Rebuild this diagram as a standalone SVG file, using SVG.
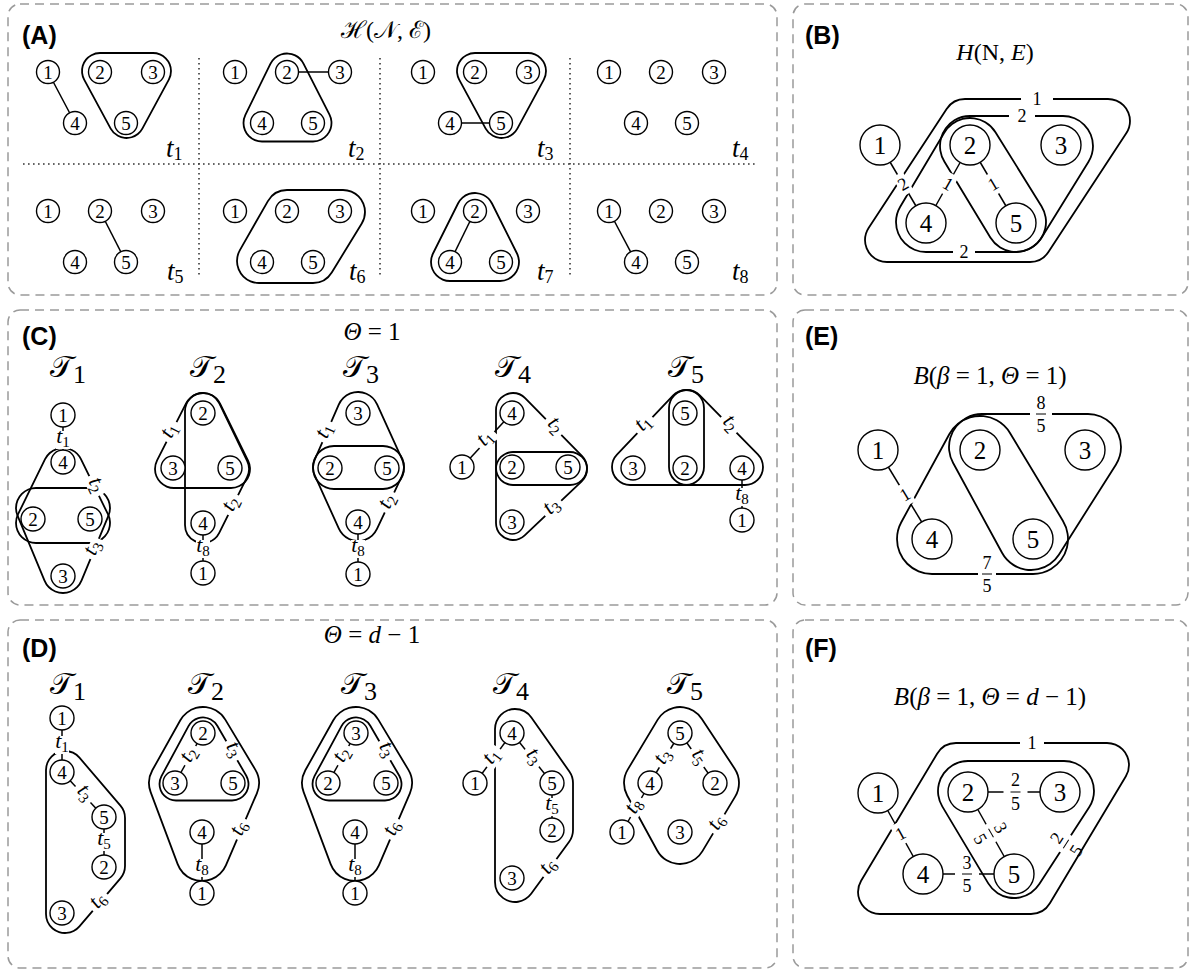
<svg xmlns="http://www.w3.org/2000/svg" width="1190" height="971" viewBox="0 0 1190 971">
<style>
.frame{fill:none;stroke:#9a9a9a;stroke-width:1.5;stroke-dasharray:9 6}
.dot{fill:none;stroke:#333;stroke-width:1.6;stroke-dasharray:1.6 3.4}
.hy{fill:#000}
.mo{fill:#fff;stroke:#fff;stroke-linejoin:round}
.mi{fill:#000;stroke:#000;stroke-linejoin:round}
.con line{stroke:#000;stroke-width:1.5}
.na circle,.nc circle,.nb circle{fill:#fff;stroke:#000;stroke-width:1.4}
.na text,.nc text{font-family:"Liberation Serif",serif;font-size:19px;text-anchor:middle}
.nb text{font-family:"Liberation Serif",serif;font-size:25px;text-anchor:middle}
.lt rect,.ln rect,.fr rect{fill:#fff}
.lt text{font-family:"Liberation Serif",serif;font-style:italic;font-size:22px;text-anchor:middle}
.lt tspan{font-style:normal;font-size:15px}
.ln text,.fr text{font-family:"Liberation Serif",serif;font-size:18px;text-anchor:middle}
.fr line{stroke:#000;stroke-width:1}
.ta{font-family:"Liberation Serif",serif;font-style:italic;font-size:27px}
.ta tspan{font-style:normal;font-size:18px}
.pl{font-family:"Liberation Sans",Arial,sans-serif;font-weight:bold;font-size:25px}
.ti{font-family:"Liberation Serif","DejaVu Serif",serif;font-size:25px;text-anchor:middle}
.ti .it{font-style:italic}
.tr{font-family:"Liberation Serif","DejaVu Serif","DejaVu Sans",serif;font-size:30px}
.tr tspan{font-size:26px}
</style>
<defs>
  <!-- hyperedge hulls: polygon through member nodes, outlined at distance R -->
  <path id="hA1" d="M100 71L153 71L126.5 120Z"/>
  <path id="hA2" d="M287 72L313 123L262 123Z"/>
  <path id="hA3" d="M475 71L528 71L501.5 120Z"/>
  <path id="hA6" d="M287 212L343 212L313 261L259 261Z"/>
  <path id="hA7" d="M475 212L500 262L450 262Z"/>
  <path id="hB1" d="M965 121L1108 121L1030 240L887 240Z"/>
  <path id="hB2" d="M970 146L1063 146L1016 222Z"/>
  <path id="hB3" d="M970 148L1016 222L926 222Z"/>
  <path id="hC1a" d="M63 468L90 523L36 523Z"/>
  <path id="hC1b" d="M36 508L90 508L63 573Z"/>
  <path id="hC2a" d="M203 412L231 469L174 469Z"/>
  <path id="hC2b" d="M203 411L231 469L203 525Z"/>
  <path id="hC3a" d="M358 413L383 468L334 468Z"/>
  <path id="hC3b" d="M334 467L383 467L358 520Z"/>
  <path id="hC4a" d="M513 410L570 468L513 468Z"/>
  <path id="hC4b" d="M513 469L570 469L513 523Z"/>
  <path id="hC5a" d="M686 408L686 467L630 467Z"/>
  <path id="hC5b" d="M687 408L745 467L687 467Z"/>
  <path id="hE1" d="M982 447L1088 447L1031 537Z"/>
  <path id="hE2" d="M980 451L1033 539L932 539Z"/>
  <path id="hD1" d="M65 770L106 818L106 866L65 914Z"/>
  <path id="hD2a" d="M203 734L232 784L176 784Z"/>
  <path id="hD2b" d="M203 733L233 783L202 855L175 783Z"/>
  <path id="hD3a" d="M356 734L385 784L329 784Z"/>
  <path id="hD3b" d="M356 733L386 783L355 855L328 783Z"/>
  <path id="hD4" d="M515 729L553 783L553 830L515 882Z"/>
  <path id="hD5" d="M680 733L713 783L680 838L650 783Z"/>
  <path id="hF1" d="M956 765L1107 765L1031 892L880 892Z"/>
  <path id="hF2" d="M968 791L1064 791L1014 868Z"/>

  <mask id="mA1" maskUnits="userSpaceOnUse" x="0" y="0" width="1190" height="971"><use href="#hA1" class="mo" stroke-width="37.8"/><use href="#hA1" class="mi" stroke-width="34.2"/></mask>
  <mask id="mA2" maskUnits="userSpaceOnUse" x="0" y="0" width="1190" height="971"><use href="#hA2" class="mo" stroke-width="38.8"/><use href="#hA2" class="mi" stroke-width="35.2"/></mask>
  <mask id="mA3" maskUnits="userSpaceOnUse" x="0" y="0" width="1190" height="971"><use href="#hA3" class="mo" stroke-width="37.8"/><use href="#hA3" class="mi" stroke-width="34.2"/></mask>
  <mask id="mA6" maskUnits="userSpaceOnUse" x="0" y="0" width="1190" height="971"><use href="#hA6" class="mo" stroke-width="45.8"/><use href="#hA6" class="mi" stroke-width="42.2"/></mask>
  <mask id="mA7" maskUnits="userSpaceOnUse" x="0" y="0" width="1190" height="971"><use href="#hA7" class="mo" stroke-width="39.8"/><use href="#hA7" class="mi" stroke-width="36.2"/></mask>
  <mask id="mB1" maskUnits="userSpaceOnUse" x="0" y="0" width="1190" height="971"><use href="#hB1" class="mo" stroke-width="45.8"/><use href="#hB1" class="mi" stroke-width="42.2"/></mask>
  <mask id="mB2" maskUnits="userSpaceOnUse" x="0" y="0" width="1190" height="971"><use href="#hB2" class="mo" stroke-width="61.8"/><use href="#hB2" class="mi" stroke-width="58.2"/></mask>
  <mask id="mB3" maskUnits="userSpaceOnUse" x="0" y="0" width="1190" height="971"><use href="#hB3" class="mo" stroke-width="61.8"/><use href="#hB3" class="mi" stroke-width="58.2"/></mask>
  <mask id="mC1a" maskUnits="userSpaceOnUse" x="0" y="0" width="1190" height="971"><use href="#hC1a" class="mo" stroke-width="41.8"/><use href="#hC1a" class="mi" stroke-width="38.2"/></mask>
  <mask id="mC1b" maskUnits="userSpaceOnUse" x="0" y="0" width="1190" height="971"><use href="#hC1b" class="mo" stroke-width="41.8"/><use href="#hC1b" class="mi" stroke-width="38.2"/></mask>
  <mask id="mC2a" maskUnits="userSpaceOnUse" x="0" y="0" width="1190" height="971"><use href="#hC2a" class="mo" stroke-width="39.8"/><use href="#hC2a" class="mi" stroke-width="36.2"/></mask>
  <mask id="mC2b" maskUnits="userSpaceOnUse" x="0" y="0" width="1190" height="971"><use href="#hC2b" class="mo" stroke-width="37.8"/><use href="#hC2b" class="mi" stroke-width="34.2"/></mask>
  <mask id="mC3a" maskUnits="userSpaceOnUse" x="0" y="0" width="1190" height="971"><use href="#hC3a" class="mo" stroke-width="43.8"/><use href="#hC3a" class="mi" stroke-width="40.2"/></mask>
  <mask id="mC3b" maskUnits="userSpaceOnUse" x="0" y="0" width="1190" height="971"><use href="#hC3b" class="mo" stroke-width="43.8"/><use href="#hC3b" class="mi" stroke-width="40.2"/></mask>
  <mask id="mC4a" maskUnits="userSpaceOnUse" x="0" y="0" width="1190" height="971"><use href="#hC4a" class="mo" stroke-width="35.8"/><use href="#hC4a" class="mi" stroke-width="32.2"/></mask>
  <mask id="mC4b" maskUnits="userSpaceOnUse" x="0" y="0" width="1190" height="971"><use href="#hC4b" class="mo" stroke-width="35.8"/><use href="#hC4b" class="mi" stroke-width="32.2"/></mask>
  <mask id="mC5a" maskUnits="userSpaceOnUse" x="0" y="0" width="1190" height="971"><use href="#hC5a" class="mo" stroke-width="37.8"/><use href="#hC5a" class="mi" stroke-width="34.2"/></mask>
  <mask id="mC5b" maskUnits="userSpaceOnUse" x="0" y="0" width="1190" height="971"><use href="#hC5b" class="mo" stroke-width="37.8"/><use href="#hC5b" class="mi" stroke-width="34.2"/></mask>
  <mask id="mE1" maskUnits="userSpaceOnUse" x="0" y="0" width="1190" height="971"><use href="#hE1" class="mo" stroke-width="67.8"/><use href="#hE1" class="mi" stroke-width="64.2"/></mask>
  <mask id="mE2" maskUnits="userSpaceOnUse" x="0" y="0" width="1190" height="971"><use href="#hE2" class="mo" stroke-width="71.8"/><use href="#hE2" class="mi" stroke-width="68.2"/></mask>
  <mask id="mD1" maskUnits="userSpaceOnUse" x="0" y="0" width="1190" height="971"><use href="#hD1" class="mo" stroke-width="39.8"/><use href="#hD1" class="mi" stroke-width="36.2"/></mask>
  <mask id="mD2a" maskUnits="userSpaceOnUse" x="0" y="0" width="1190" height="971"><use href="#hD2a" class="mo" stroke-width="34.8"/><use href="#hD2a" class="mi" stroke-width="31.2"/></mask>
  <mask id="mD2b" maskUnits="userSpaceOnUse" x="0" y="0" width="1190" height="971"><use href="#hD2b" class="mo" stroke-width="53.8"/><use href="#hD2b" class="mi" stroke-width="50.2"/></mask>
  <mask id="mD3a" maskUnits="userSpaceOnUse" x="0" y="0" width="1190" height="971"><use href="#hD3a" class="mo" stroke-width="34.8"/><use href="#hD3a" class="mi" stroke-width="31.2"/></mask>
  <mask id="mD3b" maskUnits="userSpaceOnUse" x="0" y="0" width="1190" height="971"><use href="#hD3b" class="mo" stroke-width="53.8"/><use href="#hD3b" class="mi" stroke-width="50.2"/></mask>
  <mask id="mD4" maskUnits="userSpaceOnUse" x="0" y="0" width="1190" height="971"><use href="#hD4" class="mo" stroke-width="41.8"/><use href="#hD4" class="mi" stroke-width="38.2"/></mask>
  <mask id="mD5" maskUnits="userSpaceOnUse" x="0" y="0" width="1190" height="971"><use href="#hD5" class="mo" stroke-width="53.8"/><use href="#hD5" class="mi" stroke-width="50.2"/></mask>
  <mask id="mF1" maskUnits="userSpaceOnUse" x="0" y="0" width="1190" height="971"><use href="#hF1" class="mo" stroke-width="45.8"/><use href="#hF1" class="mi" stroke-width="42.2"/></mask>
  <mask id="mF2" maskUnits="userSpaceOnUse" x="0" y="0" width="1190" height="971"><use href="#hF2" class="mo" stroke-width="61.8"/><use href="#hF2" class="mi" stroke-width="58.2"/></mask>
</defs>

<rect width="1190" height="971" fill="#fff"/>

<!-- panel frames -->
<g id="frames">
  <rect class="frame" x="8" y="4" width="769" height="291" rx="12"/>
  <rect class="frame" x="793" y="4" width="395" height="291" rx="12"/>
  <rect class="frame" x="8" y="310" width="769" height="295" rx="12"/>
  <rect class="frame" x="793" y="310" width="395" height="295" rx="12"/>
  <rect class="frame" x="8" y="620" width="769" height="348" rx="12"/>
  <rect class="frame" x="793" y="620" width="395" height="348" rx="12"/>
</g>

<!-- panel letters and titles -->
<g id="headings">
  <text class="pl" x="22" y="44">(A)</text>
  <text class="pl" x="805" y="44">(B)</text>
  <text class="pl" x="22" y="345">(C)</text>
  <text class="pl" x="805" y="345">(E)</text>
  <text class="pl" x="22" y="657">(D)</text>
  <text class="pl" x="805" y="657">(F)</text>
  <text class="ti" x="386" y="38" style="font-size:24px">ℋ(𝒩, ℰ)</text>
  <text class="ti" x="995" y="60" style="font-size:24px"><tspan class="it">H</tspan>(N, <tspan class="it">E</tspan>)</text>
  <text class="ti" x="372" y="340"><tspan class="it">Θ</tspan> = 1</text>
  <text class="ti" x="372" y="643"><tspan class="it">Θ</tspan> = <tspan class="it">d</tspan> − 1</text>
  <text class="ti" x="990" y="384"><tspan class="it">B</tspan>(<tspan class="it">β</tspan> = 1, <tspan class="it">Θ</tspan> = 1)</text>
  <text class="ti" x="990" y="705"><tspan class="it">B</tspan>(<tspan class="it">β</tspan> = 1, <tspan class="it">Θ</tspan> = <tspan class="it">d</tspan> − 1)</text>
</g>

<!-- snapshot grid of panel A -->
<g id="grid">
  <line class="dot" x1="23" y1="164" x2="757" y2="164"/>
  <line class="dot" x1="199" y1="58" x2="199" y2="277"/>
  <line class="dot" x1="380" y1="58" x2="380" y2="277"/>
  <line class="dot" x1="570" y1="58" x2="570" y2="277"/>
</g>

<!-- hyperedge outlines -->
<g id="hyperedges">
  <rect id="eA1" class="hy" width="1190" height="971" mask="url(#mA1)"/>
  <rect id="eA2" class="hy" width="1190" height="971" mask="url(#mA2)"/>
  <rect id="eA3" class="hy" width="1190" height="971" mask="url(#mA3)"/>
  <rect id="eA6" class="hy" width="1190" height="971" mask="url(#mA6)"/>
  <rect id="eA7" class="hy" width="1190" height="971" mask="url(#mA7)"/>
  <rect id="eB1" class="hy" width="1190" height="971" mask="url(#mB1)"/>
  <rect id="eB2" class="hy" width="1190" height="971" mask="url(#mB2)"/>
  <rect id="eB3" class="hy" width="1190" height="971" mask="url(#mB3)"/>
  <rect id="eC1a" class="hy" width="1190" height="971" mask="url(#mC1a)"/>
  <rect id="eC1b" class="hy" width="1190" height="971" mask="url(#mC1b)"/>
  <rect id="eC2a" class="hy" width="1190" height="971" mask="url(#mC2a)"/>
  <rect id="eC2b" class="hy" width="1190" height="971" mask="url(#mC2b)"/>
  <rect id="eC3a" class="hy" width="1190" height="971" mask="url(#mC3a)"/>
  <rect id="eC3b" class="hy" width="1190" height="971" mask="url(#mC3b)"/>
  <rect id="eC4a" class="hy" width="1190" height="971" mask="url(#mC4a)"/>
  <rect id="eC4b" class="hy" width="1190" height="971" mask="url(#mC4b)"/>
  <rect id="eC5a" class="hy" width="1190" height="971" mask="url(#mC5a)"/>
  <rect id="eC5b" class="hy" width="1190" height="971" mask="url(#mC5b)"/>
  <rect id="eE1" class="hy" width="1190" height="971" mask="url(#mE1)"/>
  <rect id="eE2" class="hy" width="1190" height="971" mask="url(#mE2)"/>
  <rect id="eD1" class="hy" width="1190" height="971" mask="url(#mD1)"/>
  <rect id="eD2a" class="hy" width="1190" height="971" mask="url(#mD2a)"/>
  <rect id="eD2b" class="hy" width="1190" height="971" mask="url(#mD2b)"/>
  <rect id="eD3a" class="hy" width="1190" height="971" mask="url(#mD3a)"/>
  <rect id="eD3b" class="hy" width="1190" height="971" mask="url(#mD3b)"/>
  <rect id="eD4" class="hy" width="1190" height="971" mask="url(#mD4)"/>
  <rect id="eD5" class="hy" width="1190" height="971" mask="url(#mD5)"/>
  <rect id="eF1" class="hy" width="1190" height="971" mask="url(#mF1)"/>
  <rect id="eF2" class="hy" width="1190" height="971" mask="url(#mF2)"/>
</g>

<!-- pairwise edges -->
<g id="connectors" class="con">
  <line x1="48" y1="72" x2="75" y2="123"/>
  <line x1="287" y1="72" x2="340" y2="72"/>
  <line x1="450" y1="123" x2="501" y2="123"/>
  <line x1="100" y1="211" x2="126" y2="262"/>
  <line x1="475" y1="211" x2="450" y2="262"/>
  <line x1="609" y1="211" x2="636" y2="262"/>
  <line x1="880" y1="145" x2="926" y2="223"/>
  <line x1="926" y1="223" x2="970" y2="145"/>
  <line x1="970" y1="145" x2="1016" y2="223"/>
  <line x1="878" y1="450" x2="932" y2="539"/>
  <line x1="878" y1="793" x2="923" y2="874"/>
  <line x1="968" y1="792" x2="1060" y2="792"/>
  <line x1="968" y1="792" x2="1014" y2="874"/>
  <line x1="923" y1="874" x2="1014" y2="874"/>
  <line x1="63" y1="415" x2="63" y2="462"/>
  <line x1="203" y1="523" x2="203" y2="573"/>
  <line x1="358" y1="522" x2="358" y2="574"/>
  <line x1="462" y1="467" x2="512" y2="413"/>
  <line x1="742" y1="468" x2="742" y2="520"/>
  <line x1="62" y1="718" x2="62" y2="772"/>
  <line x1="62" y1="772" x2="104" y2="817"/>
  <line x1="104" y1="817" x2="104" y2="867"/>
  <line x1="175" y1="783" x2="203" y2="733"/>
  <line x1="202" y1="832" x2="202" y2="893"/>
  <line x1="328" y1="783" x2="356" y2="733"/>
  <line x1="355" y1="832" x2="355" y2="893"/>
  <line x1="475" y1="783" x2="512" y2="733"/>
  <line x1="512" y1="733" x2="552" y2="783"/>
  <line x1="552" y1="783" x2="552" y2="830"/>
  <line x1="680" y1="733" x2="650" y2="783"/>
  <line x1="680" y1="733" x2="715" y2="783"/>
  <line x1="650" y1="783" x2="622" y2="832"/>
</g>

<!-- edge and snapshot labels -->
<g id="labels">
  <text class="ta" x="166" y="157">t<tspan dy="3">1</tspan></text>
  <text class="ta" x="348" y="157">t<tspan dy="3">2</tspan></text>
  <text class="ta" x="537" y="157">t<tspan dy="3">3</tspan></text>
  <text class="ta" x="732" y="157">t<tspan dy="3">4</tspan></text>
  <text class="ta" x="167" y="280">t<tspan dy="3">5</tspan></text>
  <text class="ta" x="349" y="280">t<tspan dy="3">6</tspan></text>
  <text class="ta" x="537" y="280">t<tspan dy="3">7</tspan></text>
  <text class="ta" x="732" y="280">t<tspan dy="3">8</tspan></text>

  <g class="ln" transform="translate(1037 99)"><rect x="-16" y="-4" width="32" height="8"/><text y="6">1</text></g>
  <g class="ln" transform="translate(1022 116)"><rect x="-13" y="-4" width="26" height="8"/><text y="6">2</text></g>
  <g class="ln" transform="translate(964 252)"><rect x="-11" y="-4" width="22" height="8"/><text y="6">2</text></g>
  <g class="ln" transform="translate(903 184) rotate(-30.5)"><rect x="-6" y="-11" width="12" height="22"/><text y="6">2</text></g>
  <g class="ln" transform="translate(948 184) rotate(29.4)"><rect x="-6" y="-11" width="12" height="22"/><text y="6">1</text></g>
  <g class="ln" transform="translate(993 184) rotate(-30.5)"><rect x="-6" y="-11" width="12" height="22"/><text y="6">1</text></g>

  <g class="ln" transform="translate(905 494.5) rotate(-31)"><rect x="-6" y="-11" width="12" height="22"/><text y="6">1</text></g>
  <g class="fr" transform="translate(1041 414)"><rect x="-11" y="-4" width="22" height="8"/><line x1="-5" y1="0" x2="5" y2="0"/><text y="-5">8</text><text y="18">5</text></g>
  <g class="fr" transform="translate(987 574)"><rect x="-9" y="-4" width="18" height="8"/><line x1="-5" y1="0" x2="5" y2="0"/><text y="-5">7</text><text y="18">5</text></g>

  <g class="ln" transform="translate(1032 743)"><rect x="-12" y="-4" width="24" height="8"/><text y="6">1</text></g>
  <g class="ln" transform="translate(900.5 833.5) rotate(-29)"><rect x="-6" y="-11" width="12" height="22"/><text y="6">1</text></g>
  <g class="fr" transform="translate(1015.5 792)"><rect x="-12" y="-4" width="24" height="8"/><line x1="-5" y1="0" x2="5" y2="0"/><text y="-6">2</text><text y="18">5</text></g>
  <g class="fr" transform="translate(991 833) rotate(60.7)"><rect x="-10" y="-4" width="20" height="8"/><line x1="-5" y1="0" x2="5" y2="0"/><text y="-5">3</text><text y="18">5</text></g>
  <g class="fr" transform="translate(1066 844) rotate(-57)"><rect x="-10" y="-4" width="20" height="8"/><line x1="-5" y1="0" x2="5" y2="0"/><text y="-5">2</text><text y="18">5</text></g>
  <g class="fr" transform="translate(967 874)"><rect x="-12" y="-4" width="24" height="8"/><line x1="-5" y1="0" x2="5" y2="0"/><text y="-5">3</text><text y="18">5</text></g>

  <g class="lt" transform="translate(63 440)"><rect x="-7" y="-9" width="14" height="18"/><text y="3">t<tspan dy="4">1</tspan></text></g>
  <g class="lt" transform="translate(94 486) rotate(64)"><rect x="-11" y="-7" width="22" height="14"/><text y="3">t<tspan dy="4">2</tspan></text></g>
  <g class="lt" transform="translate(95 549) rotate(-67)"><rect x="-11" y="-7" width="22" height="14"/><text y="3">t<tspan dy="4">3</tspan></text></g>
  <g class="lt" transform="translate(171.6 431.9) rotate(-63)"><rect x="-11" y="-7" width="22" height="14"/><text y="3">t<tspan dy="4">1</tspan></text></g>
  <g class="lt" transform="translate(233 505) rotate(-63.4)"><rect x="-11" y="-7" width="22" height="14"/><text y="3">t<tspan dy="4">2</tspan></text></g>
  <g class="lt" transform="translate(203 549)"><rect x="-7" y="-9" width="14" height="18"/><text y="3">t<tspan dy="4">8</tspan></text></g>
  <g class="lt" transform="translate(326.7 432) rotate(-66)"><rect x="-11" y="-7" width="22" height="14"/><text y="3">t<tspan dy="4">1</tspan></text></g>
  <g class="lt" transform="translate(389.5 502.5) rotate(-64.7)"><rect x="-11" y="-7" width="22" height="14"/><text y="3">t<tspan dy="4">2</tspan></text></g>
  <g class="lt" transform="translate(358 549)"><rect x="-7" y="-9" width="14" height="18"/><text y="3">t<tspan dy="4">8</tspan></text></g>
  <g class="lt" transform="translate(487 440) rotate(-47)"><rect x="-11" y="-7" width="22" height="14"/><text y="3">t<tspan dy="4">1</tspan></text></g>
  <g class="lt" transform="translate(553.6 427) rotate(45.5)"><rect x="-11" y="-7" width="22" height="14"/><text y="3">t<tspan dy="4">2</tspan></text></g>
  <g class="lt" transform="translate(553.2 508.3) rotate(-43.5)"><rect x="-11" y="-7" width="22" height="14"/><text y="3">t<tspan dy="4">3</tspan></text></g>
  <g class="lt" transform="translate(644.9 425.1) rotate(-46.5)"><rect x="-11" y="-7" width="22" height="14"/><text y="3">t<tspan dy="4">1</tspan></text></g>
  <g class="lt" transform="translate(728.8 424.9) rotate(45.5)"><rect x="-11" y="-7" width="22" height="14"/><text y="3">t<tspan dy="4">2</tspan></text></g>
  <g class="lt" transform="translate(742 497)"><rect x="-7" y="-9" width="14" height="18"/><text y="3">t<tspan dy="4">8</tspan></text></g>

  <g class="lt" transform="translate(62 745)"><rect x="-7" y="-9" width="14" height="18"/><text y="3">t<tspan dy="4">1</tspan></text></g>
  <g class="lt" transform="translate(83 794.5) rotate(47)"><rect x="-11" y="-7" width="22" height="14"/><text y="3">t<tspan dy="4">3</tspan></text></g>
  <g class="lt" transform="translate(104 842)"><rect x="-7" y="-9" width="14" height="18"/><text y="3">t<tspan dy="4">5</tspan></text></g>
  <g class="lt" transform="translate(99.9 902.4) rotate(-49.5)"><rect x="-11" y="-7" width="22" height="14"/><text y="3">t<tspan dy="4">6</tspan></text></g>
  <g class="lt" transform="translate(191 756) rotate(-60.7)"><rect x="-11" y="-7" width="22" height="14"/><text y="3">t<tspan dy="4">2</tspan></text></g>
  <g class="lt" transform="translate(231.8 750.7) rotate(60)"><rect x="-11" y="-7" width="22" height="14"/><text y="3">t<tspan dy="4">3</tspan></text></g>
  <g class="lt" transform="translate(241.4 829.3) rotate(-66.7)"><rect x="-11" y="-7" width="22" height="14"/><text y="3">t<tspan dy="4">6</tspan></text></g>
  <g class="lt" transform="translate(202 868)"><rect x="-7" y="-9" width="14" height="18"/><text y="3">t<tspan dy="4">8</tspan></text></g>
  <g class="lt" transform="translate(344 756) rotate(-60.7)"><rect x="-11" y="-7" width="22" height="14"/><text y="3">t<tspan dy="4">2</tspan></text></g>
  <g class="lt" transform="translate(384.8 750.7) rotate(60)"><rect x="-11" y="-7" width="22" height="14"/><text y="3">t<tspan dy="4">3</tspan></text></g>
  <g class="lt" transform="translate(394.4 829.3) rotate(-66.7)"><rect x="-11" y="-7" width="22" height="14"/><text y="3">t<tspan dy="4">6</tspan></text></g>
  <g class="lt" transform="translate(355 868)"><rect x="-7" y="-9" width="14" height="18"/><text y="3">t<tspan dy="4">8</tspan></text></g>
  <g class="lt" transform="translate(493.5 758) rotate(-53.5)"><rect x="-11" y="-7" width="22" height="14"/><text y="3">t<tspan dy="4">1</tspan></text></g>
  <g class="lt" transform="translate(532 758) rotate(51)"><rect x="-11" y="-7" width="22" height="14"/><text y="3">t<tspan dy="4">3</tspan></text></g>
  <g class="lt" transform="translate(552 807)"><rect x="-7" y="-9" width="14" height="18"/><text y="3">t<tspan dy="4">5</tspan></text></g>
  <g class="lt" transform="translate(550 868) rotate(-53.8)"><rect x="-11" y="-7" width="22" height="14"/><text y="3">t<tspan dy="4">6</tspan></text></g>
  <g class="lt" transform="translate(665 758) rotate(-59)"><rect x="-11" y="-7" width="22" height="14"/><text y="3">t<tspan dy="4">3</tspan></text></g>
  <g class="lt" transform="translate(697.5 758) rotate(55)"><rect x="-11" y="-7" width="22" height="14"/><text y="3">t<tspan dy="4">5</tspan></text></g>
  <g class="lt" transform="translate(636 807.5) rotate(-60)"><rect x="-11" y="-7" width="22" height="14"/><text y="3">t<tspan dy="4">8</tspan></text></g>
  <g class="lt" transform="translate(718.8 823.9) rotate(-59)"><rect x="-11" y="-7" width="22" height="14"/><text y="3">t<tspan dy="4">6</tspan></text></g>

  <text class="tr" x="50" y="377">𝒯<tspan dy="6">1</tspan></text>
  <text class="tr" x="190" y="377">𝒯<tspan dy="6">2</tspan></text>
  <text class="tr" x="343" y="377">𝒯<tspan dy="6">3</tspan></text>
  <text class="tr" x="495" y="377">𝒯<tspan dy="6">4</tspan></text>
  <text class="tr" x="668" y="377">𝒯<tspan dy="6">5</tspan></text>
  <text class="tr" x="50" y="694">𝒯<tspan dy="6">1</tspan></text>
  <text class="tr" x="188" y="694">𝒯<tspan dy="6">2</tspan></text>
  <text class="tr" x="341" y="694">𝒯<tspan dy="6">3</tspan></text>
  <text class="tr" x="493" y="694">𝒯<tspan dy="6">4</tspan></text>
  <text class="tr" x="667" y="694">𝒯<tspan dy="6">5</tspan></text>
</g>

<!-- panel A snapshots -->
<g id="cell-t1">
  <g id="t1-n1" class="na"><circle cx="48" cy="72" r="11.5"/><text x="48" y="78.5">1</text></g>
  <g id="t1-n2" class="na"><circle cx="100" cy="72" r="11.5"/><text x="100" y="78.5">2</text></g>
  <g id="t1-n3" class="na"><circle cx="153" cy="72" r="11.5"/><text x="153" y="78.5">3</text></g>
  <g id="t1-n4" class="na"><circle cx="75" cy="123" r="11.5"/><text x="75" y="129.5">4</text></g>
  <g id="t1-n5" class="na"><circle cx="126" cy="123" r="11.5"/><text x="126" y="129.5">5</text></g>
</g>
<g id="cell-t2" transform="translate(187 0)">
  <g id="t2-n1" class="na"><circle cx="48" cy="72" r="11.5"/><text x="48" y="78.5">1</text></g>
  <g id="t2-n2" class="na"><circle cx="100" cy="72" r="11.5"/><text x="100" y="78.5">2</text></g>
  <g id="t2-n3" class="na"><circle cx="153" cy="72" r="11.5"/><text x="153" y="78.5">3</text></g>
  <g id="t2-n4" class="na"><circle cx="75" cy="123" r="11.5"/><text x="75" y="129.5">4</text></g>
  <g id="t2-n5" class="na"><circle cx="126" cy="123" r="11.5"/><text x="126" y="129.5">5</text></g>
</g>
<g id="cell-t3" transform="translate(375 0)">
  <g id="t3-n1" class="na"><circle cx="48" cy="72" r="11.5"/><text x="48" y="78.5">1</text></g>
  <g id="t3-n2" class="na"><circle cx="100" cy="72" r="11.5"/><text x="100" y="78.5">2</text></g>
  <g id="t3-n3" class="na"><circle cx="153" cy="72" r="11.5"/><text x="153" y="78.5">3</text></g>
  <g id="t3-n4" class="na"><circle cx="75" cy="123" r="11.5"/><text x="75" y="129.5">4</text></g>
  <g id="t3-n5" class="na"><circle cx="126" cy="123" r="11.5"/><text x="126" y="129.5">5</text></g>
</g>
<g id="cell-t4" transform="translate(561 0)">
  <g id="t4-n1" class="na"><circle cx="48" cy="72" r="11.5"/><text x="48" y="78.5">1</text></g>
  <g id="t4-n2" class="na"><circle cx="100" cy="72" r="11.5"/><text x="100" y="78.5">2</text></g>
  <g id="t4-n3" class="na"><circle cx="153" cy="72" r="11.5"/><text x="153" y="78.5">3</text></g>
  <g id="t4-n4" class="na"><circle cx="75" cy="123" r="11.5"/><text x="75" y="129.5">4</text></g>
  <g id="t4-n5" class="na"><circle cx="126" cy="123" r="11.5"/><text x="126" y="129.5">5</text></g>
</g>
<g id="cell-t5" transform="translate(0 139)">
  <g id="t5-n1" class="na"><circle cx="48" cy="72" r="11.5"/><text x="48" y="78.5">1</text></g>
  <g id="t5-n2" class="na"><circle cx="100" cy="72" r="11.5"/><text x="100" y="78.5">2</text></g>
  <g id="t5-n3" class="na"><circle cx="153" cy="72" r="11.5"/><text x="153" y="78.5">3</text></g>
  <g id="t5-n4" class="na"><circle cx="75" cy="123" r="11.5"/><text x="75" y="129.5">4</text></g>
  <g id="t5-n5" class="na"><circle cx="126" cy="123" r="11.5"/><text x="126" y="129.5">5</text></g>
</g>
<g id="cell-t6" transform="translate(187 139)">
  <g id="t6-n1" class="na"><circle cx="48" cy="72" r="11.5"/><text x="48" y="78.5">1</text></g>
  <g id="t6-n2" class="na"><circle cx="100" cy="72" r="11.5"/><text x="100" y="78.5">2</text></g>
  <g id="t6-n3" class="na"><circle cx="153" cy="72" r="11.5"/><text x="153" y="78.5">3</text></g>
  <g id="t6-n4" class="na"><circle cx="75" cy="123" r="11.5"/><text x="75" y="129.5">4</text></g>
  <g id="t6-n5" class="na"><circle cx="126" cy="123" r="11.5"/><text x="126" y="129.5">5</text></g>
</g>
<g id="cell-t7" transform="translate(375 139)">
  <g id="t7-n1" class="na"><circle cx="48" cy="72" r="11.5"/><text x="48" y="78.5">1</text></g>
  <g id="t7-n2" class="na"><circle cx="100" cy="72" r="11.5"/><text x="100" y="78.5">2</text></g>
  <g id="t7-n3" class="na"><circle cx="153" cy="72" r="11.5"/><text x="153" y="78.5">3</text></g>
  <g id="t7-n4" class="na"><circle cx="75" cy="123" r="11.5"/><text x="75" y="129.5">4</text></g>
  <g id="t7-n5" class="na"><circle cx="126" cy="123" r="11.5"/><text x="126" y="129.5">5</text></g>
</g>
<g id="cell-t8" transform="translate(561 139)">
  <g id="t8-n1" class="na"><circle cx="48" cy="72" r="11.5"/><text x="48" y="78.5">1</text></g>
  <g id="t8-n2" class="na"><circle cx="100" cy="72" r="11.5"/><text x="100" y="78.5">2</text></g>
  <g id="t8-n3" class="na"><circle cx="153" cy="72" r="11.5"/><text x="153" y="78.5">3</text></g>
  <g id="t8-n4" class="na"><circle cx="75" cy="123" r="11.5"/><text x="75" y="129.5">4</text></g>
  <g id="t8-n5" class="na"><circle cx="126" cy="123" r="11.5"/><text x="126" y="129.5">5</text></g>
</g>

<!-- panel B -->
<g id="B-n1" class="nb"><circle cx="880" cy="145" r="20"/><text x="880" y="153.5">1</text></g>
<g id="B-n2" class="nb"><circle cx="970" cy="145" r="20"/><text x="970" y="153.5">2</text></g>
<g id="B-n3" class="nb"><circle cx="1061" cy="145" r="20"/><text x="1061" y="153.5">3</text></g>
<g id="B-n4" class="nb"><circle cx="926" cy="223" r="20"/><text x="926" y="231.5">4</text></g>
<g id="B-n5" class="nb"><circle cx="1016" cy="223" r="20"/><text x="1016" y="231.5">5</text></g>

<!-- panel E -->
<g id="E-n1" class="nb"><circle cx="878" cy="450" r="20"/><text x="878" y="458.5">1</text></g>
<g id="E-n2" class="nb"><circle cx="980" cy="450" r="20"/><text x="980" y="458.5">2</text></g>
<g id="E-n3" class="nb"><circle cx="1085" cy="450" r="20"/><text x="1085" y="458.5">3</text></g>
<g id="E-n4" class="nb"><circle cx="932" cy="539" r="20"/><text x="932" y="547.5">4</text></g>
<g id="E-n5" class="nb"><circle cx="1033" cy="539" r="20"/><text x="1033" y="547.5">5</text></g>

<!-- panel F -->
<g id="F-n1" class="nb"><circle cx="878" cy="793" r="20"/><text x="878" y="801.5">1</text></g>
<g id="F-n2" class="nb"><circle cx="968" cy="792" r="20"/><text x="968" y="800.5">2</text></g>
<g id="F-n3" class="nb"><circle cx="1060" cy="792" r="20"/><text x="1060" y="800.5">3</text></g>
<g id="F-n4" class="nb"><circle cx="923" cy="874" r="20"/><text x="923" y="882.5">4</text></g>
<g id="F-n5" class="nb"><circle cx="1014" cy="874" r="20"/><text x="1014" y="882.5">5</text></g>

<!-- panel C trees -->
<g id="C1-n1" class="nc"><circle cx="63" cy="415" r="12"/><text x="63" y="421.5">1</text></g>
<g id="C1-n4" class="nc"><circle cx="63" cy="462" r="12"/><text x="63" y="468.5">4</text></g>
<g id="C1-n2" class="nc"><circle cx="33" cy="519" r="12"/><text x="33" y="525.5">2</text></g>
<g id="C1-n5" class="nc"><circle cx="90" cy="519" r="12"/><text x="90" y="525.5">5</text></g>
<g id="C1-n3" class="nc"><circle cx="63" cy="576" r="12"/><text x="63" y="582.5">3</text></g>

<g id="C2-n2" class="nc"><circle cx="203" cy="413" r="12"/><text x="203" y="419.5">2</text></g>
<g id="C2-n3" class="nc"><circle cx="173" cy="468" r="12"/><text x="173" y="474.5">3</text></g>
<g id="C2-n5" class="nc"><circle cx="230" cy="468" r="12"/><text x="230" y="474.5">5</text></g>
<g id="C2-n4" class="nc"><circle cx="203" cy="523" r="12"/><text x="203" y="529.5">4</text></g>
<g id="C2-n1" class="nc"><circle cx="203" cy="573" r="12"/><text x="203" y="579.5">1</text></g>

<g id="C3-n3" class="nc"><circle cx="358" cy="413" r="12"/><text x="358" y="419.5">3</text></g>
<g id="C3-n2" class="nc"><circle cx="330" cy="468" r="12"/><text x="330" y="474.5">2</text></g>
<g id="C3-n5" class="nc"><circle cx="387" cy="468" r="12"/><text x="387" y="474.5">5</text></g>
<g id="C3-n4" class="nc"><circle cx="358" cy="522" r="12"/><text x="358" y="528.5">4</text></g>
<g id="C3-n1" class="nc"><circle cx="358" cy="574" r="12"/><text x="358" y="580.5">1</text></g>

<g id="C4-n4" class="nc"><circle cx="512" cy="413" r="12"/><text x="512" y="419.5">4</text></g>
<g id="C4-n1" class="nc"><circle cx="462" cy="467" r="12"/><text x="462" y="473.5">1</text></g>
<g id="C4-n2" class="nc"><circle cx="512" cy="467" r="12"/><text x="512" y="473.5">2</text></g>
<g id="C4-n5" class="nc"><circle cx="568" cy="467" r="12"/><text x="568" y="473.5">5</text></g>
<g id="C4-n3" class="nc"><circle cx="512" cy="522" r="12"/><text x="512" y="528.5">3</text></g>

<g id="C5-n5" class="nc"><circle cx="685" cy="413" r="12"/><text x="685" y="419.5">5</text></g>
<g id="C5-n3" class="nc"><circle cx="633" cy="468" r="12"/><text x="633" y="474.5">3</text></g>
<g id="C5-n2" class="nc"><circle cx="685" cy="468" r="12"/><text x="685" y="474.5">2</text></g>
<g id="C5-n4" class="nc"><circle cx="742" cy="468" r="12"/><text x="742" y="474.5">4</text></g>
<g id="C5-n1" class="nc"><circle cx="742" cy="520" r="12"/><text x="742" y="526.5">1</text></g>

<!-- panel D trees -->
<g id="D1-n1" class="nc"><circle cx="62" cy="718" r="12"/><text x="62" y="724.5">1</text></g>
<g id="D1-n4" class="nc"><circle cx="62" cy="772" r="12"/><text x="62" y="778.5">4</text></g>
<g id="D1-n5" class="nc"><circle cx="104" cy="817" r="12"/><text x="104" y="823.5">5</text></g>
<g id="D1-n2" class="nc"><circle cx="104" cy="867" r="12"/><text x="104" y="873.5">2</text></g>
<g id="D1-n3" class="nc"><circle cx="62" cy="913" r="12"/><text x="62" y="919.5">3</text></g>

<g id="D2-n2" class="nc"><circle cx="203" cy="733" r="12"/><text x="203" y="739.5">2</text></g>
<g id="D2-n3" class="nc"><circle cx="175" cy="783" r="12"/><text x="175" y="789.5">3</text></g>
<g id="D2-n5" class="nc"><circle cx="233" cy="783" r="12"/><text x="233" y="789.5">5</text></g>
<g id="D2-n4" class="nc"><circle cx="202" cy="832" r="12"/><text x="202" y="838.5">4</text></g>
<g id="D2-n1" class="nc"><circle cx="202" cy="893" r="12"/><text x="202" y="899.5">1</text></g>

<g id="D3-n3" class="nc"><circle cx="356" cy="733" r="12"/><text x="356" y="739.5">3</text></g>
<g id="D3-n2" class="nc"><circle cx="328" cy="783" r="12"/><text x="328" y="789.5">2</text></g>
<g id="D3-n5" class="nc"><circle cx="386" cy="783" r="12"/><text x="386" y="789.5">5</text></g>
<g id="D3-n4" class="nc"><circle cx="355" cy="832" r="12"/><text x="355" y="838.5">4</text></g>
<g id="D3-n1" class="nc"><circle cx="355" cy="893" r="12"/><text x="355" y="899.5">1</text></g>

<g id="D4-n4" class="nc"><circle cx="512" cy="733" r="12"/><text x="512" y="739.5">4</text></g>
<g id="D4-n1" class="nc"><circle cx="475" cy="783" r="12"/><text x="475" y="789.5">1</text></g>
<g id="D4-n5" class="nc"><circle cx="552" cy="783" r="12"/><text x="552" y="789.5">5</text></g>
<g id="D4-n2" class="nc"><circle cx="552" cy="830" r="12"/><text x="552" y="836.5">2</text></g>
<g id="D4-n3" class="nc"><circle cx="512" cy="878" r="12"/><text x="512" y="884.5">3</text></g>

<g id="D5-n5" class="nc"><circle cx="680" cy="733" r="12"/><text x="680" y="739.5">5</text></g>
<g id="D5-n4" class="nc"><circle cx="650" cy="783" r="12"/><text x="650" y="789.5">4</text></g>
<g id="D5-n2" class="nc"><circle cx="715" cy="783" r="12"/><text x="715" y="789.5">2</text></g>
<g id="D5-n3" class="nc"><circle cx="680" cy="832" r="12"/><text x="680" y="838.5">3</text></g>
<g id="D5-n1" class="nc"><circle cx="622" cy="832" r="12"/><text x="622" y="838.5">1</text></g>
</svg>
